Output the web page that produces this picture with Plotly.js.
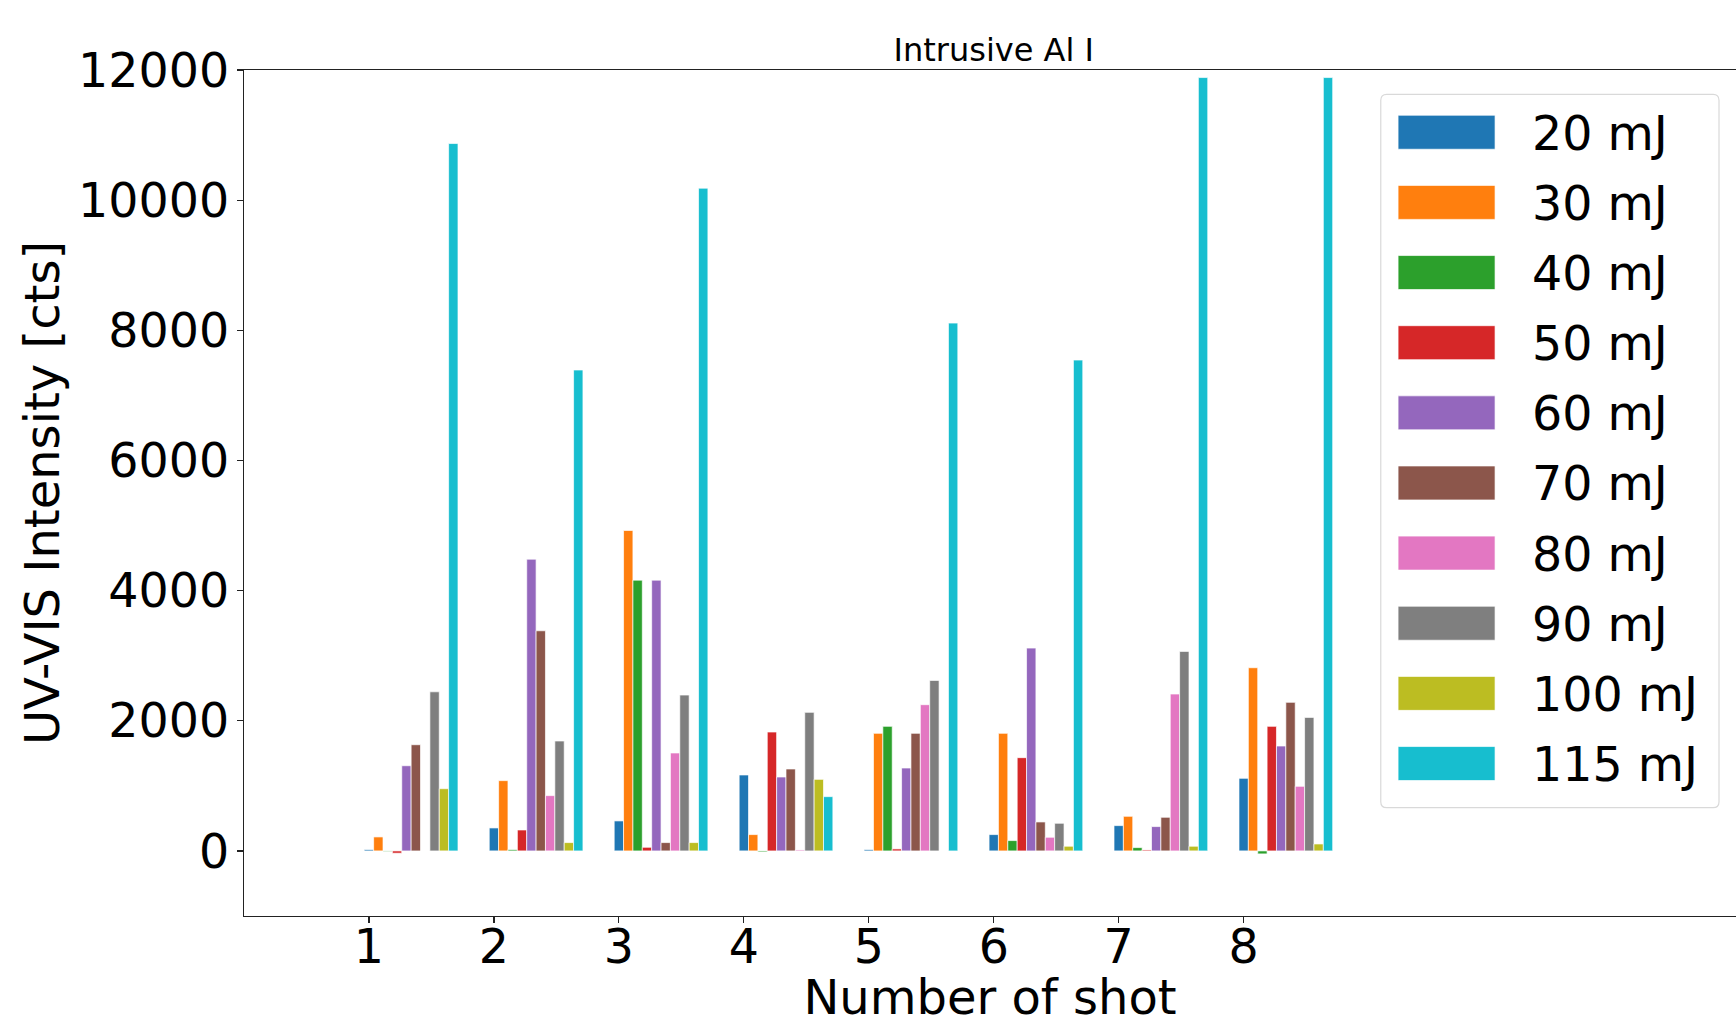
<!DOCTYPE html>
<html>
<head>
<meta charset="utf-8">
<script src="https://cdn.plot.ly/plotly-3.0.1.min.js"></script>
<style>
  html, body { margin: 0; padding: 0; background: #fff; }
  #chart { width: 1736px; height: 1025px; }
</style>
</head>
<body>
<div id="chart"></div>
<script>
// ---- data ----
const shots = [1, 2, 3, 4, 5, 6, 7, 8];
const energies = ['20 mJ', '30 mJ', '40 mJ', '50 mJ', '60 mJ', '70 mJ', '80 mJ', '90 mJ', '100 mJ', '115 mJ'];
const e20  = [20, 353, 461, 1167, 20, 251, 389, 1116];
const e30  = [215, 1080, 4924, 251, 1807, 1807, 532, 2815];
const e40  = [-10, 20, 4161, -15, 1914, 159, 51, -46];
const e50  = [-35, 322, 56, 1827, 31, 1433, 15, 1914];
const e60  = [1309, 4483, 4161, 1136, 1274, 3117, 374, 1612];
const e70  = [1632, 3383, 128, 1259, 1807, 445, 517, 2283];
const e80  = [0, 850, 1505, 15, 2247, 210, 2411, 993];
const e90  = [2445, 1689, 2395, 2129, 2620, 425, 3066, 2052];
const e100 = [956, 128, 128, 1100, 0, 72, 72, 107];
const e115 = [10870, 7390, 10184, 834, 8111, 7543, 11884, 11884];
const series = [e20, e30, e40, e50, e60, e70, e80, e90, e100, e115];
const yTicks = [0, 2000, 4000, 6000, 8000, 10000, 12000];

// ---- style ----
const colors = ['#1f77b4', '#ff7f0e', '#2ca02c', '#d62728', '#9467bd',
                '#8c564b', '#e377c2', '#7f7f7f', '#bcbd22', '#17becf'];
const FONT = 'DejaVu Sans, Liberation Sans, sans-serif';
const W = 1736, H = 1025;
const M = { l: 243.7, r: 0, t: 69.7, b: 108.6 };
const barW = 0.075;
const BIG = 47.5, AXT = 48;

const traces = series.map((vals, i) => ({
  type: 'bar',
  x: shots,
  y: vals,
  name: energies[i],
  width: barW,
  offset: i * barW - barW / 2,
  marker: { color: colors[i], line: { color: 'rgba(255,255,255,0.85)', width: 0.8 } },
  showlegend: false,
  hoverinfo: 'x+y+name'
}));

// custom legend (matplotlib-like large swatches)
const plotW = W - M.l - M.r, plotH = H - M.t - M.b;
const px = v => (v - M.l) / plotW;
const py = v => (M.t + plotH - v) / plotH;
const box = { l: 1380.7, t: 94, r: 1719, b: 808, rad: 6 };
const shapes = [];
{
  const L = px(box.l), R = px(box.r), T = py(box.t), B = py(box.b);
  const rx = box.rad / plotW, ry = box.rad / plotH;
  shapes.push({
    type: 'path', xref: 'paper', yref: 'paper',
    path: `M${L + rx},${T} L${R - rx},${T} Q${R},${T} ${R},${T - ry} L${R},${B + ry} Q${R},${B} ${R - rx},${B} L${L + rx},${B} Q${L},${B} ${L},${B + ry} L${L},${T - ry} Q${L},${T} ${L + rx},${T} Z`,
    fillcolor: 'rgba(255,255,255,0.8)', line: { color: '#d9d9d9', width: 1.2 }, layer: 'above'
  });
}
const annotations = [];
const rowC0 = 132, rowStep = 70.2, swL = 1398, swR = 1495, swH = 34, txtX = 1530;
energies.forEach((name, i) => {
  const c = rowC0 + i * rowStep;
  shapes.push({
    type: 'rect', xref: 'paper', yref: 'paper',
    x0: px(swL), x1: px(swR), y0: py(c + swH / 2), y1: py(c - swH / 2),
    fillcolor: colors[i], line: { color: 'rgba(255,255,255,0.85)', width: 0.8 }, layer: 'above'
  });
  annotations.push({
    xref: 'paper', yref: 'paper', x: px(txtX), y: py(c + 1),
    xanchor: 'left', yanchor: 'middle', showarrow: false,
    text: name, font: { family: FONT, size: BIG, color: '#000' }
  });
});

const layout = {
  width: W, height: H,
  margin: M,
  paper_bgcolor: '#fff', plot_bgcolor: '#fff',
  barmode: 'overlay',
  font: { family: FONT, color: '#000' },
  title: {
    text: 'Intrusive Al I',
    font: { family: FONT, size: 32, color: '#000' },
    xref: 'paper', x: 0.5025, xanchor: 'center',
    yref: 'paper', y: 1, yanchor: 'bottom', pad: { b: 9 }
  },
  xaxis: {
    range: [0, 11.94],
    tickmode: 'array', tickvals: shots, ticktext: shots.map(String),
    ticks: 'outside', ticklen: 6, tickwidth: 1.2, tickcolor: '#222',
    ticklabelstandoff: -17,
    showline: true, linecolor: '#222', linewidth: 1.3, mirror: true,
    showgrid: false, zeroline: false,
    tickfont: { family: FONT, size: BIG, color: '#000' },
    title: { text: 'Number of shot', font: { family: FONT, size: AXT, color: '#000' }, standoff: 4 }
  },
  yaxis: {
    range: [-1000, 12000],
    tickmode: 'array', tickvals: yTicks, ticktext: yTicks.map(String),
    ticks: 'outside', ticklen: 6, tickwidth: 1.2, tickcolor: '#222',
    ticklabelstandoff: -2,
    showline: true, linecolor: '#222', linewidth: 1.3, mirror: false,
    showgrid: false, zeroline: false,
    tickfont: { family: FONT, size: BIG, color: '#000' },
    title: { text: 'UV-VIS Intensity [cts]', font: { family: FONT, size: AXT, color: '#000' }, standoff: 3 }
  },
  shapes: shapes,
  annotations: annotations
};

Plotly.newPlot('chart', traces, layout, { displayModeBar: false, staticPlot: true });
</script>
</body>
</html>
